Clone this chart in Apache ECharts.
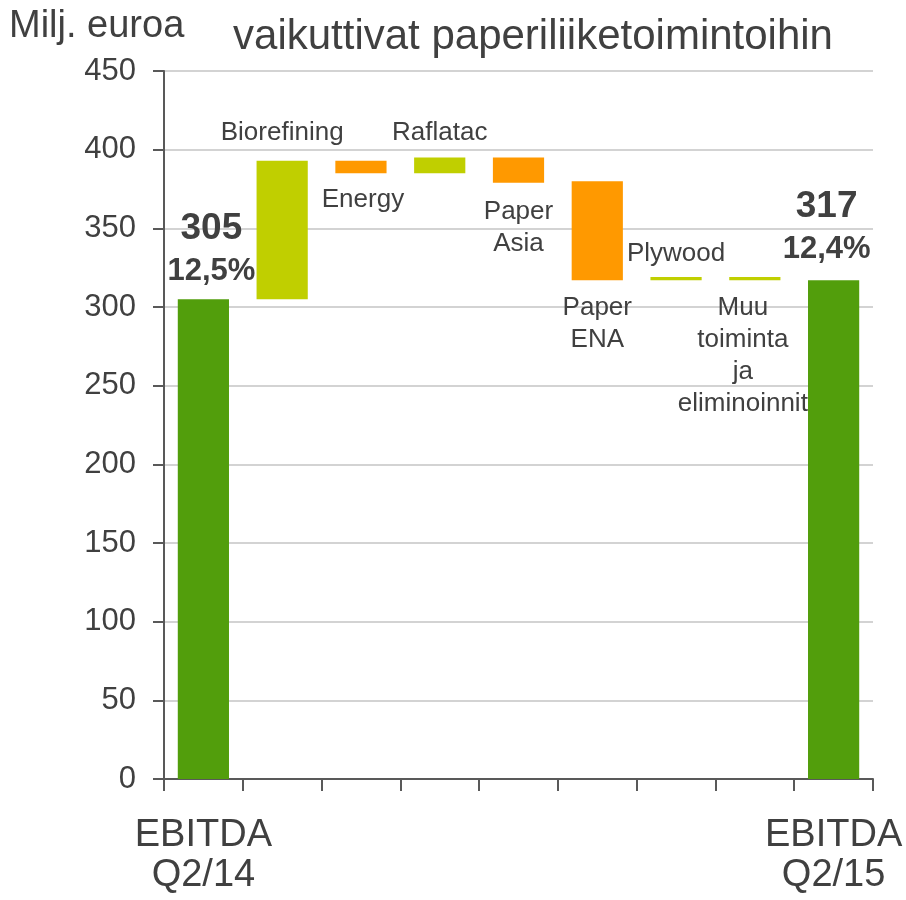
<!DOCTYPE html>
<html>
<head>
<meta charset="utf-8">
<script src="https://cdn.jsdelivr.net/npm/echarts@6/dist/echarts.min.js"></script>
<style>
  html, body { margin: 0; padding: 0; background: #fff; }
  #chart { width: 906px; height: 900px; }
</style>
</head>
<body>
<div id="chart"></div>
<script>
// data
const categories = ['EBITDA\nQ2/14', 'Biorefining', 'Energy', 'Raflatac', 'Paper\nAsia',
  'Paper\nENA', 'Plywood', 'Muu\ntoiminta\nja\neliminoinnit', 'EBITDA\nQ2/15'];
const barLows = [0, 305, 385, 385, 379, 317, 317, 317, 0];
const barHighs = [305, 393, 393, 395, 395, 380, 319, 319, 317];
const barKinds = ['total', 'up', 'down', 'up', 'down', 'down', 'up', 'up', 'total'];
const marginLabels = ['12,5%', '', '', '', '', '', '', '', '12,4%'];
const yMin = 0, yMax = 450, yStep = 50;

const colors = { total: '#529e0c', up: '#c0cf00', down: '#ff9900' };
const textColor = '#404040';
const font = 'Liberation Sans, Arial, sans-serif';

// where each segment name sits relative to its bar
const labelPlace = {
  1: ['top', 12, 0], 2: ['bottom', 11, 2], 3: ['top', 9, 0], 4: ['bottom', 13, 0],
  5: ['bottom', 12, 0], 6: ['top', 7, 0], 7: ['bottom', 12, -12]
};

function labelFor(i) {
  if (barKinds[i] === 'total') {
    return {
      show: true,
      position: 'top',
      distance: i === 0 ? 9 : 12,
      offset: [i === 0 ? 8 : -7, 0],
      formatter: '{v|' + barHighs[i] + '}\n{p|' + marginLabels[i] + '}',
      rich: {
        v: { fontSize: 37, fontWeight: 'bold', color: textColor, fontFamily: font, lineHeight: 46 },
        p: { fontSize: 31, fontWeight: 'bold', color: textColor, fontFamily: font, lineHeight: 38 }
      }
    };
  }
  const p = labelPlace[i];
  return {
    show: true,
    position: p[0],
    distance: p[1],
    offset: [p[2], 0],
    formatter: categories[i],
    fontSize: 26,
    lineHeight: 32,
    color: textColor,
    fontFamily: font
  };
}

const chart = echarts.init(document.getElementById('chart'));
chart.setOption({
  animation: false,
  title: [{
    text: 'vaikuttivat paperiliiketoimintoihin',
    left: 533,
    top: 16,
    textAlign: 'center',
    padding: 0,
    textStyle: { fontSize: 42, fontWeight: 'normal', color: textColor, fontFamily: font }
  }, {
    text: 'Milj. euroa',
    left: 9,
    top: 8,
    padding: 0,
    textStyle: { fontSize: 38, fontWeight: 'normal', color: textColor, fontFamily: font }
  }],
  grid: { left: 164, right: 33, top: 71, bottom: 121, containLabel: false },
  xAxis: {
    type: 'category',
    data: categories,
    axisLine: { show: true, lineStyle: { color: '#595959', width: 2 } },
    axisTick: { show: true, interval: 0, length: 12, lineStyle: { color: '#595959', width: 2 } },
    axisLabel: {
      interval: 0,
      margin: 37,
      fontSize: 38,
      lineHeight: 40,
      color: textColor,
      fontFamily: font,
      formatter: (v, i) => (barKinds[i] === 'total' ? v : '')
    },
    splitLine: { show: false }
  },
  yAxis: {
    type: 'value',
    min: yMin,
    max: yMax,
    interval: yStep,
    axisLine: { show: true, lineStyle: { color: '#595959', width: 2 } },
    axisTick: { show: true, length: 11, lineStyle: { color: '#595959', width: 2 } },
    axisLabel: { margin: 28, fontSize: 31, color: textColor, fontFamily: font },
    splitLine: { show: true, lineStyle: { color: '#c4c4c4', width: 1.5 } }
  },
  series: [{
    type: 'bar',
    stack: 'w',
    silent: true,
    barCategoryGap: '35%',
    itemStyle: { color: 'transparent' },
    data: barLows
  }, {
    type: 'bar',
    stack: 'w',
    barCategoryGap: '35%',
    data: barHighs.map((h, i) => ({
      value: h - barLows[i],
      itemStyle: { color: colors[barKinds[i]] },
      label: labelFor(i)
    }))
  }]
});
</script>
</body>
</html>
